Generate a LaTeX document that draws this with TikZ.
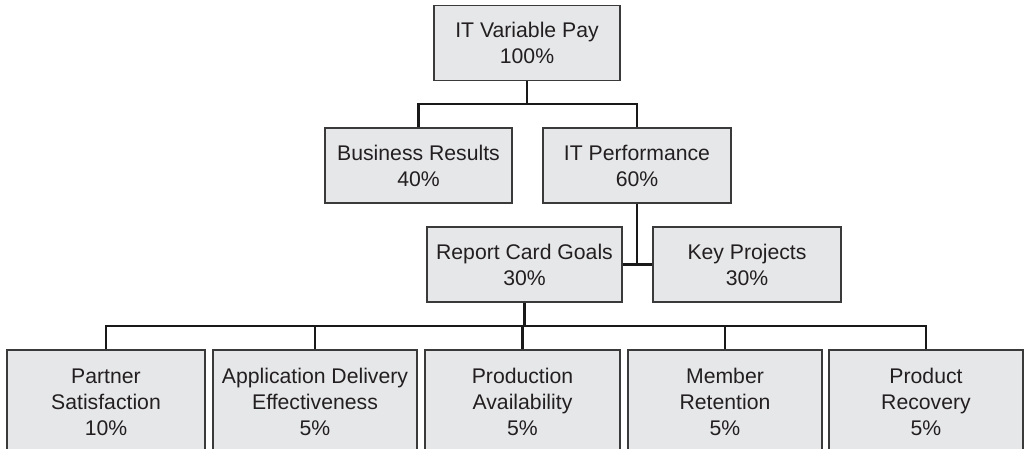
\documentclass[tikz,border=0pt]{standalone}
\usepackage{fontspec}
\setmainfont{Liberation Sans}
\definecolor{boxfill}{HTML}{E6E7E9}
\definecolor{boxdraw}{HTML}{3A3A3A}
\definecolor{txt}{HTML}{231F20}
\begin{document}
\begin{tikzpicture}[x=0.75pt,y=-0.75pt,
  box/.style={draw=boxdraw,line width=1pt,fill=boxfill,text=txt,align=center,
    inner sep=0pt,font=\fontsize{15.9}{19.5}\selectfont,minimum height=56.25pt},
  conn/.style={draw=black!90,line width=2.2pt}]
\useasboundingbox (0,0) rectangle (1034,449);
\clip (0,0) rectangle (1034,449);
\node[box,minimum width=139.5pt] (top) at (527,43) {IT Variable Pay\\100\%};
\node[box,minimum width=140.25pt] (br) at (418.5,165.5) {Business Results\\40\%};
\node[box,minimum width=141pt] (itp) at (637,165.5) {IT Performance\\60\%};
\node[box,minimum width=146.25pt] (rcg) at (524.5,264.5) {Report Card Goals\\30\%};
\node[box,minimum width=141pt] (kp) at (747,264.5) {Key Projects\\30\%};
\node[box,minimum width=148.5pt,minimum height=78pt] (ps) at (106,402) {Partner\\Satisfaction\\10\%};
\node[box,minimum width=153pt,minimum height=78pt] (ade) at (315,402) {Application Delivery\\Effectiveness\\5\%};
\node[box,minimum width=146.25pt,minimum height=78pt] (pa) at (522.5,402) {Production\\Availability\\5\%};
\node[box,minimum width=145.5pt,minimum height=78pt] (mr) at (725,402) {Member\\Retention\\5\%};
\node[box,minimum width=145.5pt,minimum height=78pt] (pr) at (926,402) {Product\\Recovery\\5\%};
\coordinate (j1) at (527,104);
\coordinate (bus) at (524.5,326);
\draw[conn] (top.south) -- (j1);
\draw[conn] (br.north) |- (j1) -| (itp.north);
\draw[conn] (itp.south) -- (itp.south |- rcg.east);
\draw[conn] (rcg.east) -- (kp.west);
\draw[conn] (rcg.south) -- (bus);
\draw[conn] (ps.north) |- (bus) -| (pr.north);
\draw[conn] (ade.north) -- (ade.north |- bus);
\draw[conn] (pa.north) -- (pa.north |- bus);
\draw[conn] (mr.north) -- (mr.north |- bus);
\end{tikzpicture}
\end{document}
